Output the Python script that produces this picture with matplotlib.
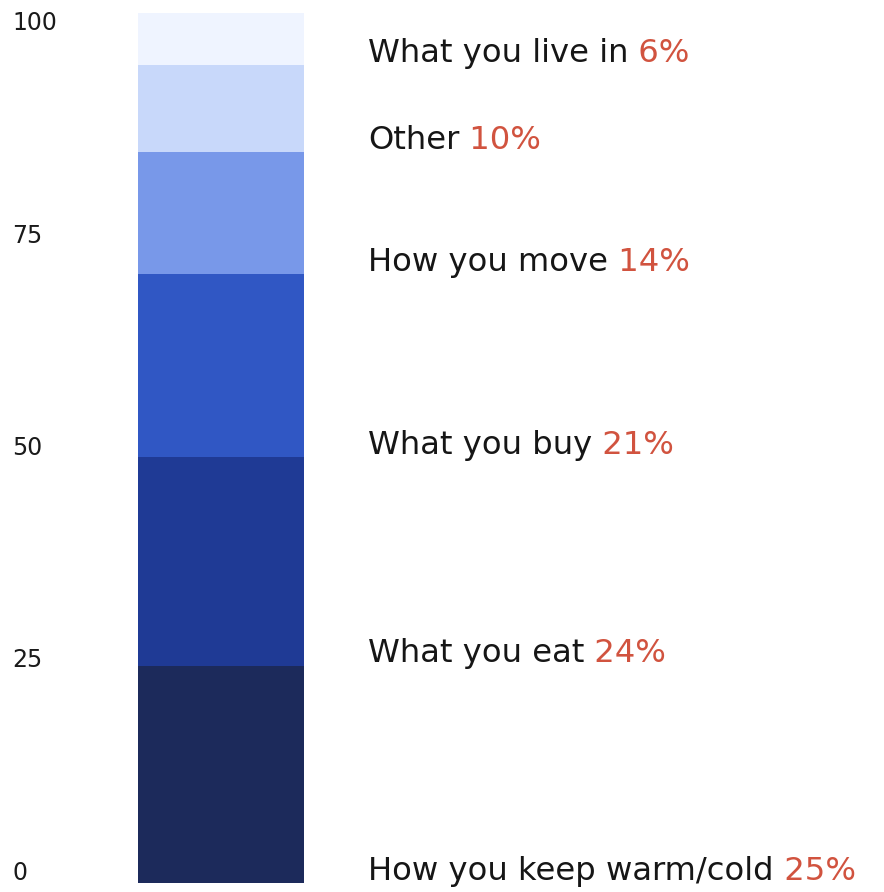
import matplotlib
matplotlib.use("Agg")
import matplotlib.pyplot as plt

categories = ["How you keep warm/cold", "What you eat", "What you buy",
              "How you move", "Other", "What you live in"]
values = [25, 24, 21, 14, 10, 6]
colors = ["#1c2a5b", "#1f3a95", "#3057c4", "#7898e9", "#c8d8fa", "#eff4ff"]
tick_values = [0, 25, 50, 75, 100]
tick_labels = ["0", "25", "50", "75", "100"]

FONT = ["DejaVu Sans"]
W, H = 884, 892
fig = plt.figure(figsize=(W / 100, H / 100), dpi=100)
ax = fig.add_axes([0, 9 / H, 1, 870 / H])
ax.set_xlim(0, W)
ax.set_ylim(0, 100)
ax.axis("off")

bottom = 0
for cat, v, c in zip(categories, values, colors):
    ax.bar(138, v, width=166, bottom=bottom, color=c, align="edge", linewidth=0)
    t = ax.text(368, bottom + 0.35, cat, ha="left", va="baseline", fontsize=23.2,
                color="#161616", family=FONT)
    ax.annotate(f" {v}%", xy=(1, 0), xycoords=t, ha="left", va="bottom",
                fontsize=23.2, color="#d1533f", family=FONT)
    bottom += v

lab_h = 2.3  # label height in data units
for tv, tl in zip(tick_values, tick_labels):
    y = tv - (tv - 50) / 100 * lab_h
    ax.text(12, y, tl, ha="left", va="center", fontsize=17,
            color="#1a1a1a", family=FONT, clip_on=False)

fig.savefig("out.png", dpi=100)
